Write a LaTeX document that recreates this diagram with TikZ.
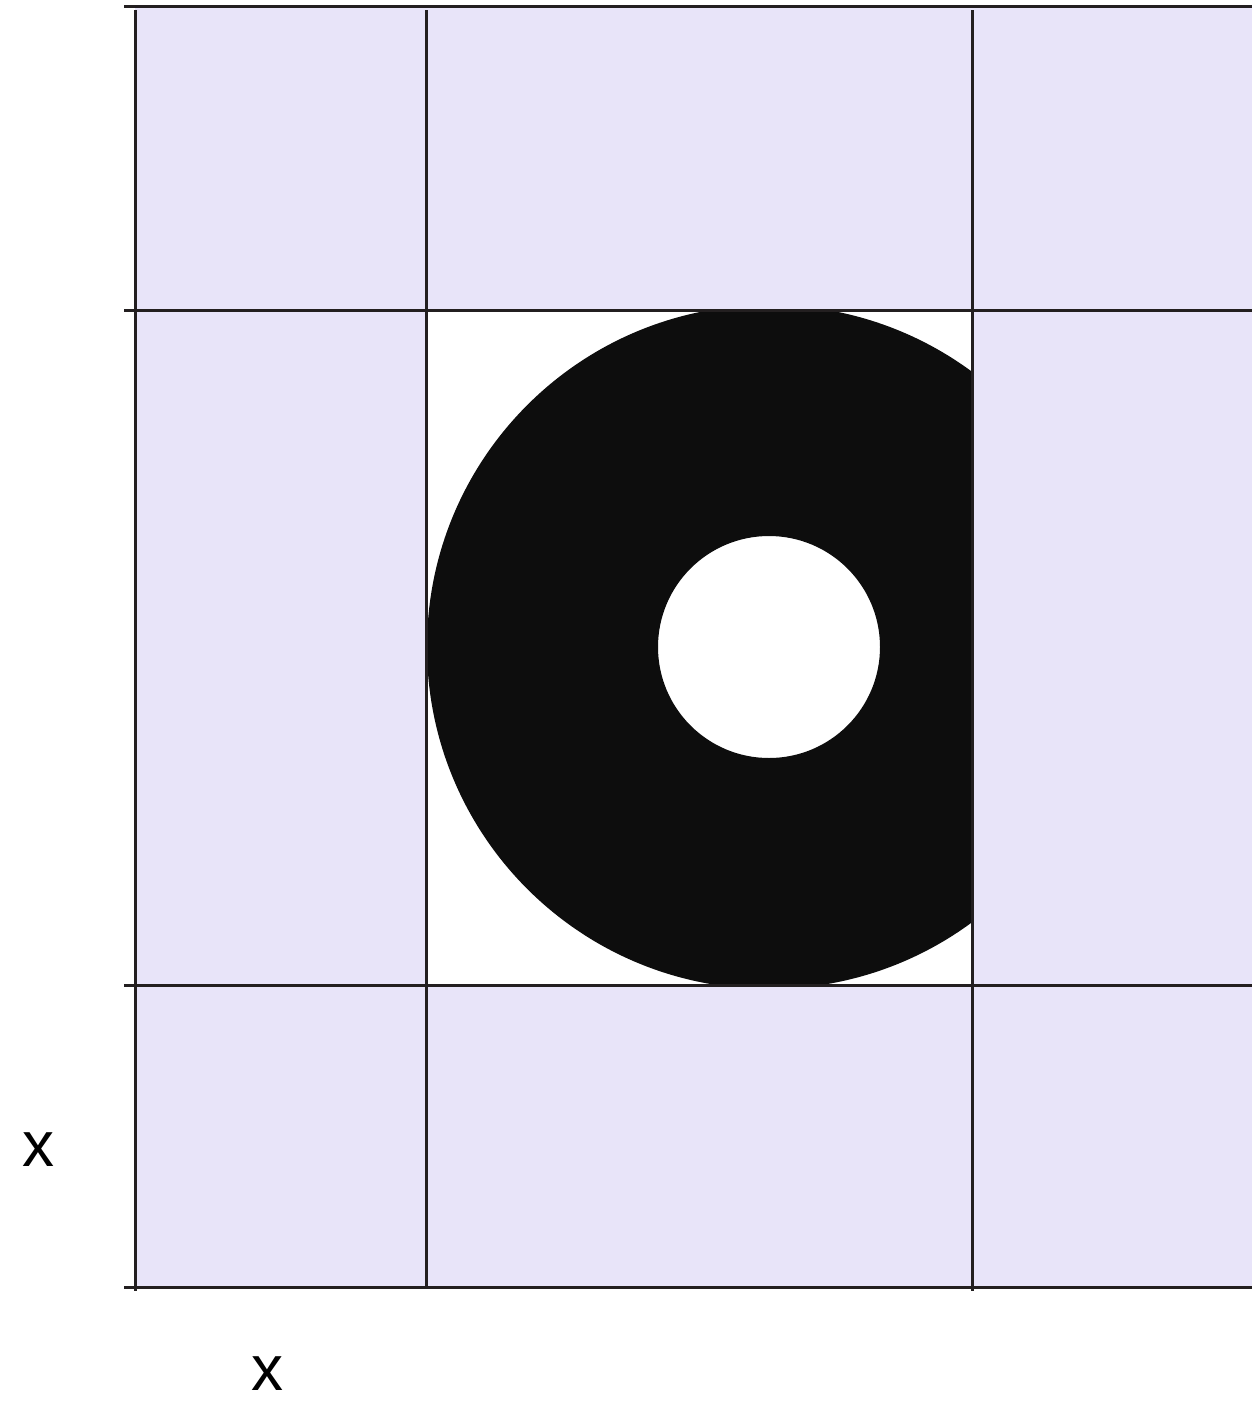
\documentclass[tikz,border=0pt]{standalone}
\usepackage{fontspec}
\setmainfont{Liberation Sans}
\definecolor{lavendel}{HTML}{E8E4F9}
\definecolor{linie}{HTML}{231F20}
\definecolor{ring}{HTML}{0D0D0D}
\tikzset{
    gitter/.style={draw=linie, line width=3pt},
    beschriftung/.style={font=\fontsize{64}{64}\selectfont, inner sep=0pt}
}

\begin{document}
\begin{tikzpicture}[x=1pt, y=-1pt]
    \useasboundingbox (0,0) rectangle (1252,1401);
    % Hintergrund
    \fill[lavendel] (135,6) rectangle (1252,1287);
    \fill[white] (426,310) rectangle (972,985);
    % Ring, auf die mittlere Zelle beschnitten
    \begin{scope}
        \clip (426,310) rectangle (972,985);
        \fill[ring, even odd rule] (769,647) circle[radius=342] (769,647) circle[radius=111];
    \end{scope}
    % Gitter
    \draw[gitter] (135,10) -- (135,1291);
    \draw[gitter] (426,10) -- (426,1287);
    \draw[gitter] (972,10) -- (972,1291);
    \draw[gitter] (124,6) -- (1252,6);
    \draw[gitter] (124,310) -- (1252,310);
    \draw[gitter] (124,985) -- (1252,985);
    \draw[gitter] (124,1287) -- (1252,1287);
    % Achsen
    \path node[beschriftung] (xlinks) at (38,1150) {x}
        node[beschriftung] (xunten) at (267,1374) {x};
\end{tikzpicture}
\end{document}
